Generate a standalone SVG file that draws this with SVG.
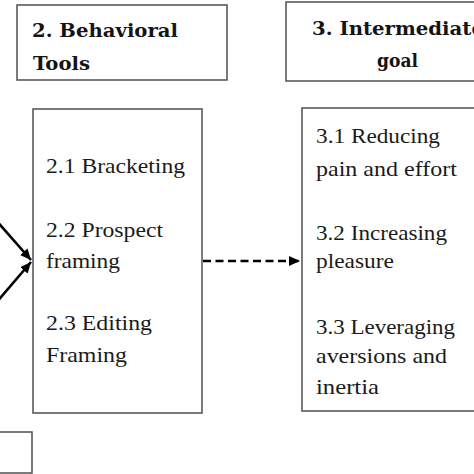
<svg xmlns="http://www.w3.org/2000/svg" width="474" height="474" viewBox="0 0 474 474">
<style>
.box{fill:#fff;stroke:#5a5a5a;stroke-width:1.6}
.hd{font-family:"DejaVu Serif","Liberation Serif",serif;font-weight:bold;font-size:18.5px;fill:#141414}
.tx{font-family:"Liberation Serif","Times New Roman",serif;font-size:22px;fill:#1a1a1a}
.ln{stroke:#000;stroke-width:2.6;fill:none}
.dash{stroke-dasharray:8 4.5}
</style>
<defs>
<marker id="ah" markerUnits="userSpaceOnUse" markerWidth="12" markerHeight="10" refX="11" refY="5" orient="auto">
<path d="M0,0 L11,5 L0,10 z" fill="#000"/>
</marker>
</defs>
<rect width="474" height="474" fill="#fff"/>
<g id="connectors">
<line class="ln" x1="-5" y1="219" x2="31" y2="260" marker-end="url(#ah)"/>
<line class="ln" x1="-5" y1="304" x2="31" y2="262" marker-end="url(#ah)"/>
<line class="ln dash" x1="203" y1="261" x2="300" y2="261" marker-end="url(#ah)"/>
</g>
<g id="header2">
<rect class="box" x="17" y="5" width="210" height="75"/>
<text class="hd" x="32" y="37" textLength="146" lengthAdjust="spacingAndGlyphs">2. Behavioral</text>
<text class="hd" x="33" y="70" textLength="57" lengthAdjust="spacingAndGlyphs">Tools</text>
</g>
<g id="header3">
<rect class="box" x="286" y="2" width="223" height="79"/>
<text class="hd" x="312" y="35" textLength="172" lengthAdjust="spacingAndGlyphs">3. Intermediate</text>
<text class="hd" x="377" y="67" textLength="41" lengthAdjust="spacingAndGlyphs">goal</text>
</g>
<g id="tools">
<rect class="box" x="33" y="109" width="169" height="304"/>
<text class="tx" x="46" y="173" textLength="139" lengthAdjust="spacingAndGlyphs">2.1 Bracketing</text>
<text class="tx" x="46" y="237" textLength="117" lengthAdjust="spacingAndGlyphs">2.2 Prospect</text>
<text class="tx" x="46" y="268" textLength="74" lengthAdjust="spacingAndGlyphs">framing</text>
<text class="tx" x="46" y="330" textLength="106" lengthAdjust="spacingAndGlyphs">2.3 Editing</text>
<text class="tx" x="46" y="362" textLength="81" lengthAdjust="spacingAndGlyphs">Framing</text>
</g>
<g id="goals">
<rect class="box" x="302" y="108" width="200" height="303"/>
<text class="tx" x="316" y="143" textLength="124" lengthAdjust="spacingAndGlyphs">3.1 Reducing</text>
<text class="tx" x="316" y="176" textLength="141" lengthAdjust="spacingAndGlyphs">pain and effort</text>
<text class="tx" x="316" y="240" textLength="131" lengthAdjust="spacingAndGlyphs">3.2 Increasing</text>
<text class="tx" x="316" y="268" textLength="78" lengthAdjust="spacingAndGlyphs">pleasure</text>
<text class="tx" x="316" y="334" textLength="139" lengthAdjust="spacingAndGlyphs">3.3 Leveraging</text>
<text class="tx" x="316" y="363" textLength="131" lengthAdjust="spacingAndGlyphs">aversions and</text>
<text class="tx" x="316" y="394" textLength="63" lengthAdjust="spacingAndGlyphs">inertia</text>
</g>
<g id="partial-box">
<rect class="box" x="-20" y="432" width="52" height="41"/>
</g>
</svg>
